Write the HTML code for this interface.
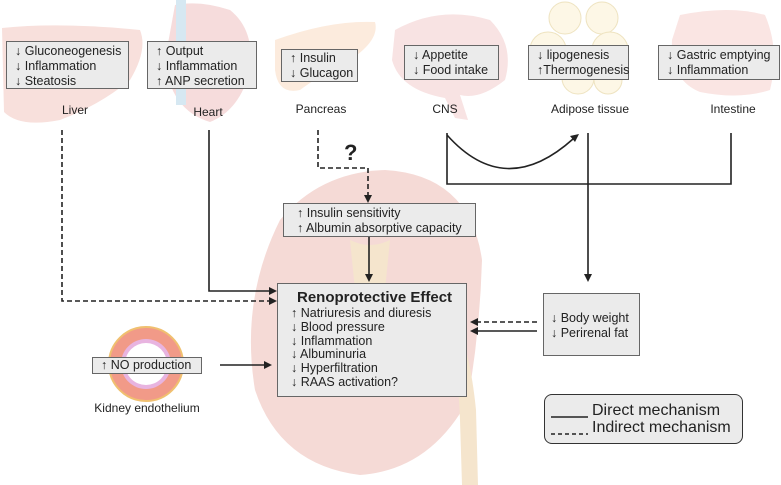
<!DOCTYPE html>
<html><head><meta charset="utf-8"><style>
html,body{margin:0;padding:0;background:#fff}
body{width:781px;height:485px;position:relative;overflow:hidden;font-family:"Liberation Sans",sans-serif;color:#222}
.b{position:absolute;background:#ebebeb;border:1px solid #666;font-size:12px;line-height:15px;padding:0 0 0 8px;box-sizing:border-box}
.l{position:absolute;font-size:12px;text-align:center;width:120px}
svg{position:absolute;left:0;top:0}
</style></head><body>
<svg width="781" height="485" viewBox="0 0 781 485">
<path d="M2 28 Q60 22 140 30 Q148 50 130 80 Q100 105 60 120 Q20 128 4 112 Z" fill="#f8e0dc"/>
<path d="M175 5 Q200 0 230 10 Q255 30 250 70 Q240 110 210 122 Q170 110 165 60 Z" fill="#f6dcdc"/>
<rect x="176" y="0" width="10" height="105" fill="#d6e8f2"/>
<path d="M275 40 Q330 20 375 22 Q380 40 350 60 Q320 75 300 90 Q278 95 275 70 Z" fill="#fcebdd"/>
<path d="M395 30 Q440 5 490 20 Q515 45 505 80 Q480 100 460 95 L468 120 L455 118 L445 98 Q400 90 392 60 Z" fill="#f8e3e3"/>
<g fill="#fdf7e6" stroke="#eee3c0"><circle cx="565" cy="18" r="16"/><circle cx="602" cy="18" r="16"/><circle cx="548" cy="50" r="18"/><circle cx="610" cy="50" r="18"/><circle cx="578" cy="78" r="16"/><circle cx="608" cy="80" r="14"/></g>
<path d="M680 15 Q730 5 765 15 Q780 50 770 90 Q740 100 700 92 Q670 80 672 40 Z" fill="#fae5e3"/>
<path d="M385 170 Q470 175 482 260 Q480 330 468 400 Q430 470 360 475 Q280 465 255 390 Q240 300 280 220 Q320 172 385 170 Z" fill="#f5dad6"/>
<path d="M445 330 Q458 360 460 420 L462 485 L478 485 L476 410 Q470 350 455 320 Z" fill="#f5e5cd"/>
<path d="M350 240 Q370 250 390 240 L385 290 L355 290 Z" fill="#f5e5cd"/>
<circle cx="146" cy="364" r="37" fill="#f19a88" stroke="#f0c070" stroke-width="2"/>
<circle cx="146" cy="364" r="25" fill="#e8b4e0"/>
<circle cx="146" cy="364" r="21" fill="#fff"/>
<g stroke="#222" stroke-width="1.6" fill="none">
<path d="M62 130 V301 H272" stroke-dasharray="5,3"/>
<path d="M209 130 V291 H272"/>
<path d="M318 130 V168 H368 V198" stroke-dasharray="5,3"/>
<path d="M369 237 V276"/>
<path d="M447 133 V184 H731 V133"/>
<path d="M447 135 Q505 200 573 139"/>
<path d="M588 133 V275"/>
<path d="M537 322 H478" stroke-dasharray="5,3"/>
<path d="M537 331 H478"/>
<path d="M220 365 H266"/>
</g>
<g fill="#222">
<path d="M277 291 l-8 -4 v8z"/><path d="M277 301 l-8 -4 v8z"/>
<path d="M368 203 l-4 -8 h8z"/><path d="M369 282 l-4 -8 h8z"/>
<path d="M588 282 l-4 -8 h8z"/>
<path d="M579 134 l-9 2 l5 6z"/>
<path d="M470 322 l8 -4 v8z"/><path d="M470 331 l8 -4 v8z"/>
<path d="M272 365 l-8 -4 v8z"/>
</g>
<text x="344" y="160" font-family="Liberation Sans" font-weight="bold" font-size="22" fill="#222">?</text>
</svg>
<div class="b" style="left:6px;top:41px;width:123px;height:48px;padding-top:2px;font-size:12.5px">↓ Gluconeogenesis<br>↓ Inflammation<br>↓ Steatosis</div>
<div class="b" style="left:147px;top:41px;width:110px;height:48px;padding-top:2px;font-size:12.5px">↑ Output<br>↓ Inflammation<br>↑ ANP secretion</div>
<div class="b" style="left:281px;top:49px;width:77px;height:33px;padding-top:1px;font-size:12.5px">↑ Insulin<br>↓ Glucagon</div>
<div class="b" style="left:404px;top:45px;width:95px;height:35px;padding-top:2px;font-size:12.5px">↓ Appetite<br>↓ Food intake</div>
<div class="b" style="left:528px;top:45px;width:101px;height:35px;padding-top:2px;font-size:12.5px">↓ lipogenesis<br>↑Thermogenesis</div>
<div class="b" style="left:658px;top:45px;width:122px;height:35px;padding-top:2px;font-size:12.5px">↓ Gastric emptying<br>↓ Inflammation</div>
<div class="l" style="left:15px;top:103px">Liver</div>
<div class="l" style="left:148px;top:105px">Heart</div>
<div class="l" style="left:261px;top:102px">Pancreas</div>
<div class="l" style="left:385px;top:102px">CNS</div>
<div class="l" style="left:530px;top:102px">Adipose tissue</div>
<div class="l" style="left:673px;top:102px">Intestine</div>
<div class="b" style="left:283px;top:203px;width:193px;height:34px;padding:2px 0 0 13px;font-size:12.5px">↑ Insulin sensitivity<br>↑ Albumin absorptive capacity</div>
<div class="b" style="left:277px;top:283px;width:190px;height:114px;padding:5px 0 0 13px;font-size:12.5px;line-height:13.8px"><div style="font-weight:bold;font-size:15px;line-height:18px;padding-left:6px">Renoprotective Effect</div>↑ Natriuresis and diuresis<br>↓ Blood pressure<br>↓ Inflammation<br>↓ Albuminuria<br>↓ Hyperfiltration<br>↓ RAAS activation?</div>
<div class="b" style="left:543px;top:293px;width:97px;height:63px;padding:17px 0 0 7px;font-size:12.5px">↓ Body weight<br>↓ Perirenal fat</div>
<div class="b" style="left:92px;top:357px;width:110px;height:17px;padding:0 0 0 8px;font-size:12.5px">↑ NO production</div>
<div class="l" style="left:87px;top:401px;width:120px">Kidney endothelium</div>
<div class="b" style="left:544px;top:394px;width:199px;height:50px;border-radius:8px;border-width:1.5px;border-color:#333;font-size:16px;line-height:17px;padding:7px 0 0 47px">Direct mechanism<br>Indirect mechanism</div>
<svg width="781" height="485" viewBox="0 0 781 485" style="pointer-events:none">
<g stroke="#222" stroke-width="1.6" fill="none">
<path d="M551 417 H588"/>
<path d="M551 434 H588" stroke-dasharray="4,3"/>
</g>
</svg>
</body></html>
